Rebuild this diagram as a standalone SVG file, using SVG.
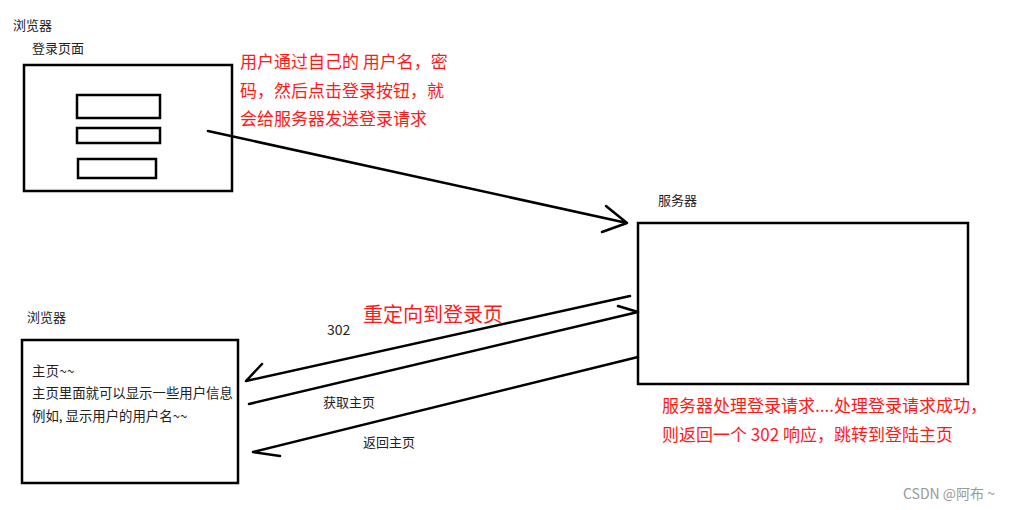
<svg xmlns="http://www.w3.org/2000/svg" width="1015" height="510" viewBox="0 0 1015 510">
<style>
.box{fill:#fff;stroke:#000;stroke-width:2.5}
.ln{fill:none;stroke:#000;stroke-width:2.5;stroke-linecap:round;stroke-linejoin:round}
.t{font-family:"Microsoft YaHei","Noto Sans CJK SC",sans-serif;font-size:13px;fill:#222}
.r{font-family:"Microsoft YaHei","Noto Sans CJK SC",sans-serif;font-size:17px;fill:#ff1a1a}
.w{font-family:"Microsoft YaHei","Noto Sans CJK SC",sans-serif;font-size:14px;fill:#999}
</style>
<rect width="1015" height="510" fill="#fff"/>
<g id="browser-login">
<text class="t" x="13" y="30">浏览器</text>
<text class="t" x="32" y="53">登录页面</text>
<rect class="box" x="24" y="65" width="208" height="126"/>
<rect class="box" x="77" y="95" width="83" height="23"/>
<rect class="box" x="77" y="128" width="83" height="15"/>
<rect class="box" x="78" y="159" width="78" height="19"/>
</g>
<g id="note-login">
<text class="r" x="240" y="68">用户通过自己的 用户名，密</text>
<text class="r" x="240" y="97">码，然后点击登录按钮，就</text>
<text class="r" x="240" y="125">会给服务器发送登录请求</text>
</g>
<g id="server">
<text class="t" x="658" y="205">服务器</text>
<rect class="box" x="638" y="223" width="330" height="161"/>
</g>
<g id="note-server">
<text class="r" x="662" y="412">服务器处理登录请求....处理登录请求成功，</text>
<text class="r" x="662" y="441">则返回一个 302 响应，跳转到登陆主页</text>
</g>
<g id="browser-home">
<text class="t" x="27" y="322">浏览器</text>
<rect class="box" x="22" y="340" width="216" height="143"/>
<text class="t" x="32" y="376" style="font-size:13.4px;letter-spacing:0.3px">主页~~</text>
<text class="t" x="32" y="398" style="font-size:13.4px">主页里面就可以显示一些用户信息</text>
<text class="t" x="32" y="421" style="font-size:13.4px">例如, 显示用户的用户名~~</text>
</g>
<g id="connectors">
<path class="ln" d="M208,131 L627,223 M606,206 L627,223 L602,232"/>
<path class="ln" d="M630,296 L246,381 M262,364 L246,381"/>
<path class="ln" d="M249,404 L638,312 M618,306 L638,312"/>
<path class="ln" d="M638,357 L253,452 L280,456"/>
<text class="t" x="327" y="335" style="font-size:14px">302</text>
<text class="r" x="363" y="322" style="font-size:20px">重定向到登录页</text>
<text class="t" x="323" y="407">获取主页</text>
<text class="t" x="363" y="447">返回主页</text>
</g>
<text class="w" x="903" y="499">CSDN @阿布 ~</text>
</svg>
